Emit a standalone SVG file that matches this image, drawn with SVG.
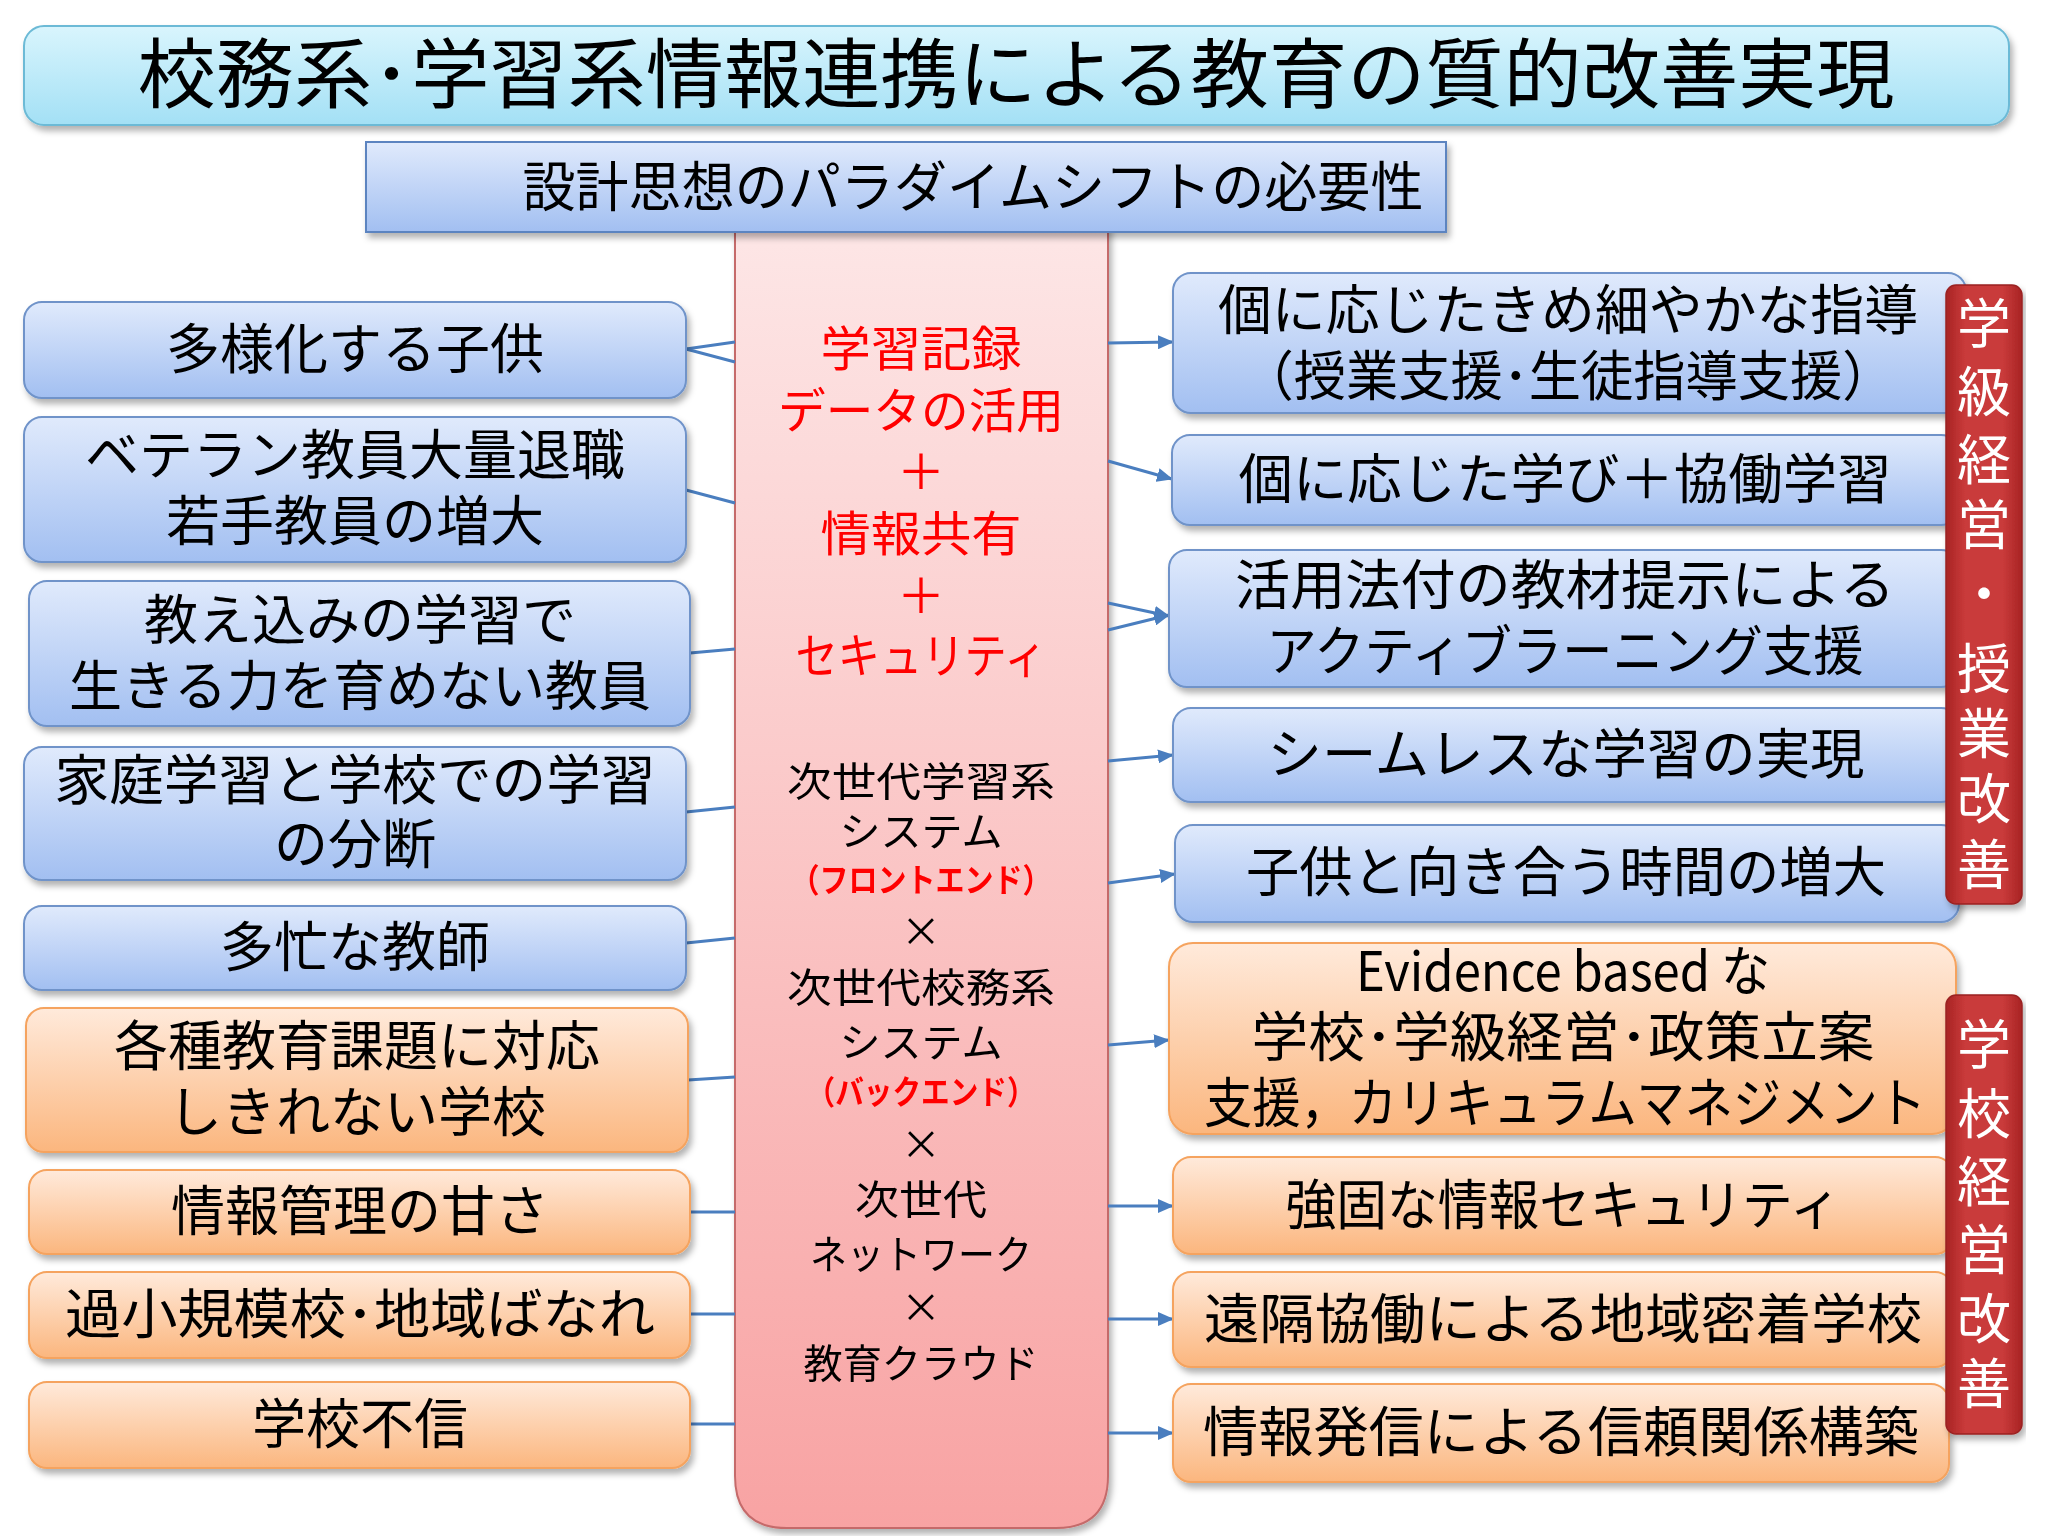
<svg xmlns="http://www.w3.org/2000/svg" width="2048" height="1536" viewBox="0 0 2048 1536">
<defs>
<linearGradient id="gTitle" x1="0" y1="0" x2="0" y2="1"><stop offset="0" stop-color="#d9f5fd"/><stop offset="1" stop-color="#a3e0f5"/></linearGradient>
<linearGradient id="gBlue" x1="0" y1="0" x2="0" y2="1"><stop offset="0" stop-color="#e0eafc"/><stop offset="1" stop-color="#a2bff1"/></linearGradient>
<linearGradient id="gOrange" x1="0" y1="0" x2="0" y2="1"><stop offset="0" stop-color="#ffeadb"/><stop offset="1" stop-color="#fbb67e"/></linearGradient>
<linearGradient id="gPink" x1="0" y1="0" x2="0" y2="1"><stop offset="0" stop-color="#fde6e6"/><stop offset="1" stop-color="#f8a3a3"/></linearGradient>
<linearGradient id="gRed" x1="0" y1="0" x2="1" y2="0"><stop offset="0" stop-color="#a82424"/><stop offset="0.25" stop-color="#c93a3a"/><stop offset="0.75" stop-color="#c93a3a"/><stop offset="1" stop-color="#a82424"/></linearGradient>
<filter id="sh" x="-5%" y="-10%" width="110%" height="130%"><feDropShadow dx="3" dy="5" stdDeviation="3" flood-color="#000" flood-opacity="0.3"/></filter>
<marker id="ah" markerUnits="userSpaceOnUse" markerWidth="16" markerHeight="14" refX="15" refY="7" orient="auto"><path d="M0,0 L16,7 L0,14 Z" fill="#4a7ebf"/></marker>
<style>
.t{font-family:"Noto Sans CJK JP","Noto Sans",sans-serif;fill:#000;text-anchor:middle}
.bx{font-size:54px}
.blue{fill:url(#gBlue);stroke:#6f93c9;stroke-width:2}
.orange{fill:url(#gOrange);stroke:#f5a35e;stroke-width:2}
.red{fill:#ff0000}
.w{fill:#fff;font-size:54px}
.c{font-size:40px}
.con line{stroke:#4a7ebf;stroke-width:3}
.con .a{marker-end:url(#ah)}
</style>
</defs>
<rect width="2048" height="1536" fill="#fff"/>

<g id="title" filter="url(#sh)">
<rect x="24" y="26" width="1985" height="99" rx="20" fill="url(#gTitle)" stroke="#6cbad6" stroke-width="2"/>
<text class="t" x="1016" y="102" font-size="76" textLength="1757" lengthAdjust="spacingAndGlyphs">校務系･学習系情報連携による教育の質的改善実現</text>
</g>

<g id="center" filter="url(#sh)">
<path d="M735,225 L1108,225 L1108,1476 Q1108,1528 1056,1528 L787,1528 Q735,1528 735,1476 Z" fill="url(#gPink)" stroke="#c56a6a" stroke-width="2"/>
<text class="t red" x="921" y="366" font-size="48" textLength="201" lengthAdjust="spacingAndGlyphs">学習記録</text>
<text class="t red" x="921" y="428" font-size="48" textLength="286" lengthAdjust="spacingAndGlyphs">データの活用</text>
<text class="t red" x="921" y="489" font-size="48">＋</text>
<text class="t red" x="921" y="551" font-size="48" textLength="201" lengthAdjust="spacingAndGlyphs">情報共有</text>
<text class="t red" x="921" y="613" font-size="48">＋</text>
<text class="t red" x="921" y="673" font-size="48" textLength="251" lengthAdjust="spacingAndGlyphs">セキュリティ</text>
<text class="t c" x="921" y="796" textLength="268" lengthAdjust="spacingAndGlyphs">次世代学習系</text>
<text class="t c" x="921" y="846" textLength="163" lengthAdjust="spacingAndGlyphs">システム</text>
<text class="t red" x="921" y="892" font-size="33" font-weight="bold" textLength="261" lengthAdjust="spacingAndGlyphs">（フロントエンド）</text>
<text class="t c" x="921" y="946">×</text>
<text class="t c" x="921" y="1002" textLength="268" lengthAdjust="spacingAndGlyphs">次世代校務系</text>
<text class="t c" x="921" y="1057" textLength="163" lengthAdjust="spacingAndGlyphs">システム</text>
<text class="t red" x="921" y="1104" font-size="33" font-weight="bold" textLength="229" lengthAdjust="spacingAndGlyphs">（バックエンド）</text>
<text class="t c" x="921" y="1159">×</text>
<text class="t c" x="921" y="1214" textLength="132" lengthAdjust="spacingAndGlyphs">次世代</text>
<text class="t c" x="921" y="1269" textLength="222" lengthAdjust="spacingAndGlyphs">ネットワーク</text>
<text class="t c" x="921" y="1322">×</text>
<text class="t c" x="921" y="1378" textLength="235" lengthAdjust="spacingAndGlyphs">教育クラウド</text>
</g>

<g id="subtitle" filter="url(#sh)">
<rect x="366" y="142" width="1080" height="90" fill="url(#gBlue)" stroke="#5b84c0" stroke-width="2"/>
<text class="t" x="973" y="207" font-size="54" textLength="901" lengthAdjust="spacingAndGlyphs">設計思想のパラダイムシフトの必要性</text>
</g>

<g class="con" id="connectors">
<line x1="686" y1="349" x2="735" y2="342"/>
<line x1="686" y1="349" x2="735" y2="362"/>
<line x1="686" y1="490" x2="735" y2="503"/>
<line x1="690" y1="653" x2="735" y2="649"/>
<line x1="686" y1="812" x2="735" y2="807"/>
<line x1="686" y1="943" x2="735" y2="938"/>
<line x1="688" y1="1080" x2="735" y2="1077"/>
<line x1="690" y1="1212" x2="735" y2="1212"/>
<line x1="690" y1="1314" x2="735" y2="1314"/>
<line x1="690" y1="1424" x2="735" y2="1424"/>
<line class="a" x1="1108" y1="343" x2="1173" y2="342"/>
<line class="a" x1="1108" y1="461" x2="1172" y2="479"/>
<line class="a" x1="1108" y1="603" x2="1169" y2="616"/>
<line class="a" x1="1108" y1="630" x2="1169" y2="615"/>
<line class="a" x1="1108" y1="761" x2="1173" y2="755"/>
<line class="a" x1="1108" y1="883" x2="1175" y2="874"/>
<line class="a" x1="1108" y1="1045" x2="1169" y2="1040"/>
<line class="a" x1="1108" y1="1206" x2="1173" y2="1206"/>
<line class="a" x1="1108" y1="1319" x2="1173" y2="1319"/>
<line class="a" x1="1108" y1="1433" x2="1173" y2="1433"/>
</g>

<g id="L1" filter="url(#sh)"><rect class="blue" x="24" y="302" width="662" height="96" rx="18"/><text class="t bx" x="355" y="369">多様化する子供</text></g>
<g id="L2" filter="url(#sh)"><rect class="blue" x="24" y="417" width="662" height="145" rx="18"/><text class="t bx" x="355" y="475">ベテラン教員大量退職</text><text class="t bx" x="355" y="541">若手教員の増大</text></g>
<g id="L3" filter="url(#sh)"><rect class="blue" x="29" y="581" width="661" height="145" rx="18"/><text class="t bx" x="360" y="640">教え込みの学習で</text><text class="t bx" x="360" y="706" textLength="582" lengthAdjust="spacingAndGlyphs">生きる力を育めない教員</text></g>
<g id="L4" filter="url(#sh)"><rect class="blue" x="24" y="747" width="662" height="133" rx="18"/><text class="t bx" x="355" y="800" textLength="601" lengthAdjust="spacingAndGlyphs">家庭学習と学校での学習</text><text class="t bx" x="355" y="864">の分断</text></g>
<g id="L5" filter="url(#sh)"><rect class="blue" x="24" y="906" width="662" height="84" rx="18"/><text class="t bx" x="355" y="967">多忙な教師</text></g>
<g id="L6" filter="url(#sh)"><rect class="orange" x="26" y="1008" width="662" height="144" rx="18"/><text class="t bx" x="357" y="1066">各種教育課題に対応</text><text class="t bx" x="357" y="1132">しきれない学校</text></g>
<g id="L7" filter="url(#sh)"><rect class="orange" x="29" y="1170" width="661" height="84" rx="18"/><text class="t bx" x="360" y="1231">情報管理の甘さ</text></g>
<g id="L8" filter="url(#sh)"><rect class="orange" x="29" y="1272" width="661" height="86" rx="18"/><text class="t bx" x="360" y="1334" textLength="590" lengthAdjust="spacingAndGlyphs">過小規模校･地域ばなれ</text></g>
<g id="L9" filter="url(#sh)"><rect class="orange" x="29" y="1382" width="661" height="86" rx="18"/><text class="t bx" x="360" y="1444">学校不信</text></g>

<g id="R1" filter="url(#sh)"><rect class="blue" x="1173" y="273" width="793" height="140" rx="18"/><text class="t bx" x="1568" y="330" textLength="700" lengthAdjust="spacingAndGlyphs">個に応じたきめ細やかな指導</text><text class="t bx" x="1568" y="396" textLength="653" lengthAdjust="spacingAndGlyphs">（授業支援･生徒指導支援）</text></g>
<g id="R2" filter="url(#sh)"><rect class="blue" x="1172" y="435" width="787" height="90" rx="18"/><text class="t bx" x="1565" y="499" textLength="653" lengthAdjust="spacingAndGlyphs">個に応じた学び＋協働学習</text></g>
<g id="R3" filter="url(#sh)"><rect class="blue" x="1169" y="550" width="790" height="137" rx="18"/><text class="t bx" x="1565" y="605" textLength="660" lengthAdjust="spacingAndGlyphs">活用法付の教材提示による</text><text class="t bx" x="1565" y="671" textLength="597" lengthAdjust="spacingAndGlyphs">アクティブラーニング支援</text></g>
<g id="R4" filter="url(#sh)"><rect class="blue" x="1173" y="708" width="786" height="94" rx="18"/><text class="t bx" x="1566" y="774" textLength="597" lengthAdjust="spacingAndGlyphs">シームレスな学習の実現</text></g>
<g id="R5" filter="url(#sh)"><rect class="blue" x="1175" y="825" width="784" height="97" rx="18"/><text class="t bx" x="1566" y="892" textLength="640" lengthAdjust="spacingAndGlyphs">子供と向き合う時間の増大</text></g>
<g id="R6" filter="url(#sh)"><rect class="orange" x="1169" y="943" width="787" height="191" rx="24"/><text class="t bx" x="1563" y="991" font-size="50" textLength="414" lengthAdjust="spacingAndGlyphs">Evidence based な</text><text class="t bx" x="1563" y="1057" textLength="623" lengthAdjust="spacingAndGlyphs">学校･学級経営･政策立案</text><text class="t bx" x="1565" y="1123" textLength="722" lengthAdjust="spacingAndGlyphs">支援，カリキュラムマネジメント</text></g>
<g id="R7" filter="url(#sh)"><rect class="orange" x="1173" y="1157" width="780" height="97" rx="18"/><text class="t bx" x="1563" y="1225" textLength="555" lengthAdjust="spacingAndGlyphs">強固な情報セキュリティ</text></g>
<g id="R8" filter="url(#sh)"><rect class="orange" x="1173" y="1272" width="780" height="95" rx="18"/><text class="t bx" x="1563" y="1339" textLength="718" lengthAdjust="spacingAndGlyphs">遠隔協働による地域密着学校</text></g>
<g id="R9" filter="url(#sh)"><rect class="orange" x="1173" y="1384" width="776" height="98" rx="18"/><text class="t bx" x="1561" y="1452" textLength="716" lengthAdjust="spacingAndGlyphs">情報発信による信頼関係構築</text></g>

<g id="bar1" filter="url(#sh)">
<rect x="1946" y="285" width="76" height="619" rx="10" fill="url(#gRed)" stroke="#9a2020" stroke-width="1.5"/>
<text class="t w" x="1984" y="344">学</text><text class="t w" x="1984" y="412">級</text><text class="t w" x="1984" y="480">経</text><text class="t w" x="1984" y="545">営</text><text class="t w" x="1984" y="614">・</text><text class="t w" x="1984" y="689">授</text><text class="t w" x="1984" y="754">業</text><text class="t w" x="1984" y="819">改</text><text class="t w" x="1984" y="885">善</text>
</g>
<g id="bar2" filter="url(#sh)">
<rect x="1946" y="995" width="76" height="439" rx="10" fill="url(#gRed)" stroke="#9a2020" stroke-width="1.5"/>
<text class="t w" x="1984" y="1065">学</text><text class="t w" x="1984" y="1134">校</text><text class="t w" x="1984" y="1202">経</text><text class="t w" x="1984" y="1270">営</text><text class="t w" x="1984" y="1339">改</text><text class="t w" x="1984" y="1404">善</text>
</g>
</svg>
